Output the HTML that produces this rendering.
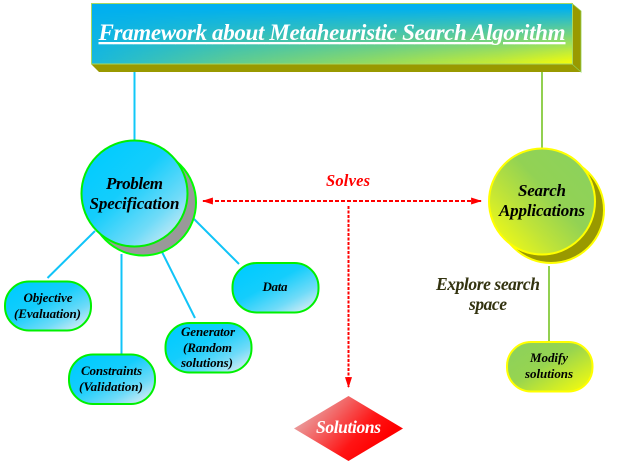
<!DOCTYPE html>
<html>
<head>
<meta charset="utf-8">
<style>
html,body{margin:0;padding:0;background:#fff;width:628px;height:466px;overflow:hidden}
svg{display:block;filter:blur(.3px)}
text{font-family:"Liberation Serif",serif;font-weight:bold;font-style:italic;text-anchor:middle}
</style>
</head>
<body>
<svg width="628" height="466" viewBox="0 0 628 466" xmlns="http://www.w3.org/2000/svg">
<defs>
<linearGradient id="banH" gradientUnits="userSpaceOnUse" x1="91" y1="0" x2="572" y2="0">
<stop offset="0" stop-color="#18b8dc"/><stop offset=".3" stop-color="#60cc90"/><stop offset=".6" stop-color="#96dc5c"/><stop offset=".85" stop-color="#c8ec30"/><stop offset="1" stop-color="#f4fc08"/>
</linearGradient>
<linearGradient id="banV" gradientUnits="userSpaceOnUse" x1="0" y1="8" x2="0" y2="63">
<stop offset="0" stop-color="#000"/><stop offset="1" stop-color="#fff"/>
</linearGradient>
<mask id="banM" maskUnits="userSpaceOnUse" x="91" y="3" width="482" height="62">
<rect x="91" y="3" width="482" height="62" fill="url(#banV)"/>
</mask>
<linearGradient id="blue" x1="0.1" y1="0.1" x2="0.9" y2="0.95">
<stop offset="0" stop-color="#00ccff"/><stop offset=".4" stop-color="#14cdfc"/><stop offset=".75" stop-color="#70dbf8"/><stop offset="1" stop-color="#d4ecf4"/>
</linearGradient>
<linearGradient id="sea" x1="0.85" y1="0.2" x2="0.12" y2="0.88">
<stop offset="0" stop-color="#8ed25a"/><stop offset=".35" stop-color="#92d254"/><stop offset=".7" stop-color="#c0e438"/><stop offset="1" stop-color="#ecf818"/>
</linearGradient>
<linearGradient id="mod" x1="0.1" y1="0.15" x2="0.9" y2="0.95">
<stop offset="0" stop-color="#8ed25a"/><stop offset=".4" stop-color="#96d450"/><stop offset="1" stop-color="#f0fa10"/>
</linearGradient>
<linearGradient id="dia" gradientUnits="userSpaceOnUse" x1="320" y1="400" x2="375" y2="450">
<stop offset="0" stop-color="#ea9a9a"/><stop offset=".7" stop-color="#ff1414"/><stop offset="1" stop-color="#ff0000"/>
</linearGradient>
<marker id="ar" viewBox="0 0 10 10" refX="9" refY="5" markerWidth="11" markerHeight="7" markerUnits="userSpaceOnUse" orient="auto-start-reverse" preserveAspectRatio="none">
<path d="M0 0L10 5L0 10Z" fill="#ff0000"/>
</marker>
</defs>

<!-- banner -->
<polygon points="91,64 572,64 581,72 99,72" fill="#999900"/>
<polygon points="572,3.5 581,11 581,72 572,64" fill="#999900" stroke="#92d050" stroke-width=".8"/>
<rect x="91.5" y="3.5" width="481" height="60.5" fill="#00b0f0" stroke="#a8d860" stroke-width="1"/>
<rect x="92" y="4" width="480" height="59.5" fill="url(#banH)" mask="url(#banM)"/>
<text x="332" y="40" font-size="23" fill="#fff" text-decoration="underline" textLength="467" lengthAdjust="spacing">Framework about Metaheuristic Search Algorithm</text>

<!-- trunk lines -->
<line x1="134.5" y1="72" x2="134.5" y2="141" stroke="#10c8f8" stroke-width="2"/>
<line x1="542" y1="72" x2="542" y2="149" stroke="#92d050" stroke-width="2"/>

<!-- blue connectors -->
<g stroke="#10c4f8" stroke-width="2" fill="none">
<line x1="95" y1="231" x2="47.5" y2="278"/>
<line x1="121.5" y1="254" x2="121.5" y2="354"/>
<line x1="161" y1="250" x2="195" y2="318"/>
<line x1="194" y1="219" x2="239" y2="264"/>
</g>
<line x1="549" y1="266" x2="549" y2="341" stroke="#92d050" stroke-width="2"/>

<!-- problem circle -->
<circle cx="143" cy="202.5" r="53" fill="#999999" stroke="#00ff00" stroke-width="2"/>
<circle cx="134.5" cy="193.5" r="53" fill="url(#blue)" stroke="#00f000" stroke-width="2"/>
<text x="134.5" y="189" font-size="17" fill="#000" textLength="57">Problem</text>
<text x="134.5" y="209" font-size="17" fill="#000" textLength="90">Specification</text>

<!-- search circle -->
<circle cx="551" cy="210" r="53" fill="#999900" stroke="#ffff00" stroke-width="2"/>
<circle cx="542" cy="201.5" r="53" fill="url(#sea)" stroke="#ffff00" stroke-width="2"/>
<text x="542" y="196" font-size="17" fill="#000" textLength="48">Search</text>
<text x="542" y="216" font-size="17" fill="#000" textLength="86">Applications</text>

<!-- pills -->
<g stroke="#00f000" stroke-width="2" fill="url(#blue)">
<rect x="5" y="281.5" width="86" height="49" rx="24" ry="24"/>
<rect x="69" y="354.5" width="86" height="49.5" rx="24" ry="24"/>
<rect x="165.5" y="323" width="86" height="49.5" rx="24" ry="24"/>
<rect x="232.5" y="263" width="86" height="49.5" rx="24" ry="24"/>
</g>
<rect x="507" y="342" width="85.5" height="49.5" rx="24" ry="24" fill="url(#mod)" stroke="#ffff00" stroke-width="2"/>

<g font-size="13" fill="#000">
<text x="48" y="302" textLength="49">Objective</text>
<text x="47.5" y="318" textLength="67">(Evaluation)</text>
<text x="111.5" y="375" textLength="61">Constraints</text>
<text x="111" y="391" textLength="64">(Validation)</text>
<text x="208" y="336" textLength="54">Generator</text>
<text x="207.5" y="352" textLength="49">(Random</text>
<text x="207" y="367" textLength="52">solutions)</text>
<text x="275" y="291" textLength="25">Data</text>
<text x="549" y="362" textLength="38">Modify</text>
<text x="549" y="378" textLength="48">solutions</text>
</g>

<!-- arrows -->
<line x1="203" y1="201" x2="481" y2="201" stroke="#ff0000" stroke-width="2" stroke-dasharray="4 2" marker-start="url(#ar)" marker-end="url(#ar)"/>
<line x1="348.5" y1="206" x2="348.5" y2="387" stroke="#ff0000" stroke-width="2" stroke-dasharray="3 1.5" marker-end="url(#ar)"/>

<text x="348" y="186" font-size="16.5" fill="#ff0000" textLength="44">Solves</text>
<text x="488" y="290" font-size="17.5" fill="#333310" textLength="104">Explore search</text>
<text x="488" y="310" font-size="17.5" fill="#333310" textLength="38">space</text>

<!-- diamond -->
<polygon points="348.5,396 403,428.5 348.5,461 294,428.5" fill="url(#dia)"/>
<text x="348.5" y="433" font-size="17.5" fill="#fff" textLength="65">Solutions</text>
</svg>
</body>
</html>
